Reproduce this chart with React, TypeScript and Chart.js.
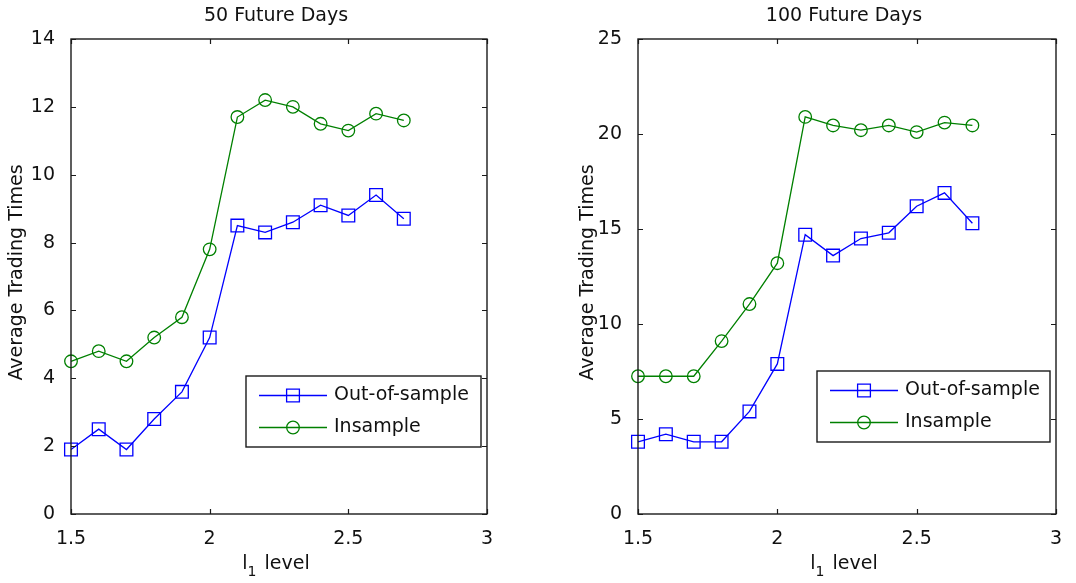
import React, { useEffect, useRef } from 'react';
import { Chart, registerables } from 'chart.js';

Chart.register(...registerables);

// l1 levels on the horizontal axis
const levels = [1.5, 1.6, 1.7, 1.8, 1.9, 2.0, 2.1, 2.2, 2.3, 2.4, 2.5, 2.6, 2.7];

// 50 future days
const outOfSample50 = [1.9, 2.5, 1.9, 2.8, 3.6, 5.2, 8.5, 8.3, 8.6, 9.1, 8.8, 9.4, 8.7];
const inSample50 = [4.5, 4.8, 4.5, 5.2, 5.8, 7.8, 11.7, 12.2, 12.0, 11.5, 11.3, 11.8, 11.6];

// 100 future days
const outOfSample100 = [3.8, 4.2, 3.8, 3.8, 5.4, 7.9, 14.7, 13.6, 14.5, 14.8, 16.2, 16.9, 15.3];
const inSample100 = [7.25, 7.25, 7.25, 9.1, 11.05, 13.2, 20.9, 20.45, 20.2, 20.45, 20.1, 20.6, 20.45];

const xTicks = [1.5, 2, 2.5, 3];
const yTicks50 = [0, 2, 4, 6, 8, 10, 12, 14];
const yTicks100 = [0, 5, 10, 15, 20, 25];

const seriesNames = ['Out-of-sample', 'Insample'];
const titles = ['50 Future Days', '100 Future Days'];
const yAxisTitle = 'Average Trading Times';

const FONT = '"DejaVu Sans", "Liberation Sans", Arial, sans-serif';
const FONT_SIZE = 19;
const TEXT = '#111';
const BLUE = '#0000ff';
const GREEN = '#008000';
const LINE_W = 1.3;

const W = 538;
const H = 583;
const AREA_TOP = 39;
const AREA_BOTTOM = 514;

type PanelCfg = {
  title: string;
  out: number[];
  ins: number[];
  yTicks: number[];
  areaLeft: number;
  areaRight: number;
  yTitleX: number;
  legendBox: { x: number; y: number; w: number; h: number };
};

const frameAndText = {
  id: 'frameAndText',
  afterDraw(chart: any, _args: any, opts: any) {
    const cfg: PanelCfg = opts.cfg;
    const { ctx, chartArea: a, scales } = chart;
    ctx.save();

    // axes box
    ctx.strokeStyle = '#1a1a1a';
    ctx.lineWidth = 1.4;
    ctx.strokeRect(Math.round(a.left), Math.round(a.top), Math.round(a.right - a.left), Math.round(a.bottom - a.top));

    // inward tick marks on all four sides
    const tl = 5;
    ctx.lineWidth = 1.2;
    ctx.beginPath();
    for (const t of scales.x.ticks) {
      const px = Math.round(scales.x.getPixelForValue(t.value)) + 0.5;
      ctx.moveTo(px, a.bottom);
      ctx.lineTo(px, a.bottom - tl);
      ctx.moveTo(px, a.top);
      ctx.lineTo(px, a.top + tl);
    }
    for (const t of scales.y.ticks) {
      const py = Math.round(scales.y.getPixelForValue(t.value)) + 0.5;
      ctx.moveTo(a.left, py);
      ctx.lineTo(a.left + tl, py);
      ctx.moveTo(a.right, py);
      ctx.lineTo(a.right - tl, py);
    }
    ctx.stroke();

    ctx.fillStyle = TEXT;
    ctx.font = `${FONT_SIZE}px ${FONT}`;

    // title
    ctx.textAlign = 'center';
    ctx.textBaseline = 'middle';
    ctx.fillText(cfg.title, (a.left + a.right) / 2 - 3, 16);

    // y-axis title
    ctx.save();
    ctx.translate(cfg.yTitleX, (a.top + a.bottom) / 2 - 4);
    ctx.rotate(-Math.PI / 2);
    ctx.fillText(yAxisTitle, 0, 0);
    ctx.restore();

    // x-axis title: l with subscript 1, then "level"
    ctx.textAlign = 'left';
    ctx.textBaseline = 'alphabetic';
    const mainFont = `${FONT_SIZE}px ${FONT}`;
    const subFont = `14px ${FONT}`;
    ctx.font = mainFont;
    const wl = ctx.measureText('l').width;
    const wLevel = ctx.measureText('level').width;
    ctx.font = subFont;
    const w1 = ctx.measureText('1').width;
    const gap = 8;
    const total = wl + w1 + gap + wLevel;
    let x0 = (a.left + a.right) / 2 - 3 - total / 2;
    const base = 569;
    ctx.font = mainFont;
    ctx.fillText('l', x0, base);
    x0 += wl;
    ctx.font = subFont;
    ctx.fillText('1', x0, base + 7);
    x0 += w1 + gap;
    ctx.font = mainFont;
    ctx.fillText('level', x0, base);

    // legend
    const lb = cfg.legendBox;
    ctx.fillStyle = '#fff';
    ctx.fillRect(lb.x, lb.y, lb.w, lb.h);
    ctx.strokeStyle = '#1a1a1a';
    ctx.lineWidth = 1.4;
    ctx.strokeRect(lb.x, lb.y, lb.w, lb.h);
    const rows = [
      { name: seriesNames[0], color: BLUE, marker: 'rect' },
      { name: seriesNames[1], color: GREEN, marker: 'circle' },
    ];
    rows.forEach((r, i) => {
      const cy = lb.y + 19 + i * 32 + 0.5;
      const x1 = lb.x + 13;
      const x2 = lb.x + 81;
      const mx = lb.x + 47;
      ctx.strokeStyle = r.color;
      ctx.lineWidth = LINE_W;
      ctx.beginPath();
      ctx.moveTo(x1, cy);
      ctx.lineTo(x2, cy);
      ctx.stroke();
      ctx.beginPath();
      if (r.marker === 'rect') {
        ctx.rect(mx - 6.4, cy - 6.4, 12.8, 12.8);
      } else {
        ctx.arc(mx, cy, 6.3, 0, Math.PI * 2);
      }
      ctx.stroke();
      ctx.fillStyle = TEXT;
      ctx.font = mainFont;
      ctx.textBaseline = 'middle';
      ctx.fillText(r.name, lb.x + 88, cy);
    });

    ctx.restore();
  },
};

function Panel({ cfg, left }: { cfg: PanelCfg; left: number }) {
  const ref = useRef<HTMLCanvasElement>(null);

  useEffect(() => {
    const canvas = ref.current;
    if (!canvas) return;
    const tickFont = { family: FONT, size: FONT_SIZE };
    const chart = new Chart(canvas, {
      type: 'line',
      data: {
        datasets: [
          {
            label: seriesNames[0],
            data: levels.map((x, i) => ({ x, y: cfg.out[i] })),
            borderColor: BLUE,
            borderWidth: LINE_W,
            pointStyle: 'rect',
            pointRadius: 9,
            pointBorderWidth: LINE_W,
            pointBorderColor: BLUE,
            pointBackgroundColor: 'rgba(0,0,0,0)',
            tension: 0,
            clip: false,
          },
          {
            label: seriesNames[1],
            data: levels.map((x, i) => ({ x, y: cfg.ins[i] })),
            borderColor: GREEN,
            borderWidth: LINE_W,
            pointStyle: 'circle',
            pointRadius: 6.3,
            pointBorderWidth: LINE_W,
            pointBorderColor: GREEN,
            pointBackgroundColor: 'rgba(0,0,0,0)',
            tension: 0,
            clip: false,
          },
        ],
      },
      options: {
        animation: false,
        responsive: false,
        events: [],
        layout: { padding: { top: AREA_TOP, right: W - cfg.areaRight, bottom: 0, left: 0 } },
        plugins: {
          legend: { display: false },
          title: { display: false },
          tooltip: { enabled: false },
          frameAndText: { cfg },
        } as any,
        scales: {
          x: {
            type: 'linear',
            min: xTicks[0],
            max: xTicks[xTicks.length - 1],
            afterBuildTicks: (s: any) => {
              s.ticks = xTicks.map((v) => ({ value: v }));
            },
            afterFit: (s: any) => {
              s.height = H - AREA_BOTTOM;
            },
            grid: { display: false },
            border: { display: false },
            ticks: {
              color: TEXT,
              font: tickFont,
              padding: 6,
              maxRotation: 0,
              autoSkip: false,
              callback: (v: any) => String(v),
            },
          },
          y: {
            type: 'linear',
            min: cfg.yTicks[0],
            max: cfg.yTicks[cfg.yTicks.length - 1],
            afterBuildTicks: (s: any) => {
              s.ticks = cfg.yTicks.map((v) => ({ value: v }));
            },
            afterFit: (s: any) => {
              s.width = cfg.areaLeft;
            },
            grid: { display: false },
            border: { display: false },
            ticks: {
              color: TEXT,
              font: tickFont,
              padding: 8,
              autoSkip: false,
              callback: (v: any) => String(v),
            },
          },
        },
      },
      plugins: [frameAndText],
    });
    return () => chart.destroy();
  }, [cfg]);

  return (
    <div style={{ position: 'absolute', left, top: 0, width: W, height: H }}>
      <canvas ref={ref} width={W} height={H} style={{ display: 'block' }} />
    </div>
  );
}

const panel50: PanelCfg = {
  title: titles[0],
  out: outOfSample50,
  ins: inSample50,
  yTicks: yTicks50,
  areaLeft: 71,
  areaRight: 487,
  yTitleX: 17,
  legendBox: { x: 246, y: 376, w: 235, h: 71 },
};

const panel100: PanelCfg = {
  title: titles[1],
  out: outOfSample100,
  ins: inSample100,
  yTicks: yTicks100,
  areaLeft: 100,
  areaRight: 518,
  yTitleX: 50,
  legendBox: { x: 279, y: 371, w: 233, h: 71 },
};

export default function App() {
  return (
    <div style={{ position: 'fixed', left: 0, top: 0, width: 1076, height: 583, background: '#fff' }}>
      <Panel cfg={panel50} left={0} />
      <Panel cfg={panel100} left={538} />
    </div>
  );
}
